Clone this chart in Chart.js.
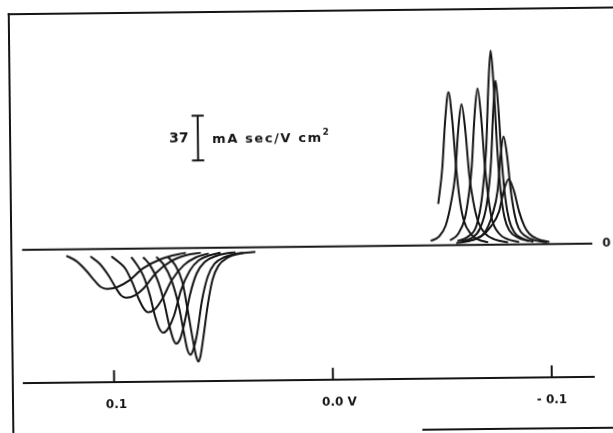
<!DOCTYPE html>
<html>
<head>
<meta charset="utf-8">
<script src="https://cdn.jsdelivr.net/npm/chart.js@4.4.1/dist/chart.umd.min.js"></script>
<style>
  html, body { margin: 0; padding: 0; background: #fff; overflow: hidden; }
  /* la figura escaneada esta un poco girada */
  #hoja { position: relative; width: 613px; height: 433px; transform: rotate(-0.63deg); transform-origin: 306.5px 216.5px; }
  #grafico { position: absolute; left: 0; top: 0; }
  .linea { position: absolute; background: #151515; }
  .txt { position: absolute; font-family: "DejaVu Sans"; font-weight: bold; font-size: 13px; line-height: 13px; color: #151515; white-space: nowrap; }
</style>
</head>
<body>
<div id="hoja">
  <div class="linea" style="left:10px; top:9.5px; width:630px; height:2px"></div>
  <div class="linea" style="left:10px; top:9.5px; width:2px; height:450px"></div>
  <div class="linea" style="left:420px; top:430px; width:220px; height:2px"></div>
  <canvas id="grafico" width="613" height="433"></canvas>
  <div class="txt" style="left:170px; top:130px; font-size:14px">37</div>
  <div class="txt" style="left:213px; top:130.5px; letter-spacing:1.6px">mA sec/V cm<span style="font-size:9px; position:relative; top:-7px; letter-spacing:0">2</span></div>
</div>

<script>
// Curvas: [potencial (V), corriente (mA sec/V cm2)]

// Barridos catodicos (picos hacia abajo, a la izquierda)
const catodica1 = [[0.1212,-5.3],[0.1166,-9.9],[0.1120,-18.2],[0.1083,-26.4],[0.1056,-31.4],[0.1028,-33.0],[0.0978,-31.4],[0.0927,-26.4],[0.0863,-16.5],[0.0780,-8.9],[0.0698,-5.0],[0.0666,-4.0]]
const catodica2 = [[0.1102,-6.1],[0.1060,-12.2],[0.1019,-22.3],[0.0987,-32.4],[0.0964,-38.5],[0.0941,-40.5],[0.0900,-38.5],[0.0858,-32.4],[0.0803,-20.3],[0.0735,-10.9],[0.0666,-6.1],[0.0597,-4.1]]
const catodica3 = [[0.1006,-6.3],[0.0969,-11.6],[0.0942,-16.8],[0.0910,-28.9],[0.0882,-42.1],[0.0859,-50.0],[0.0841,-52.6],[0.0809,-50.0],[0.0777,-42.1],[0.0731,-26.3],[0.0676,-14.2],[0.0621,-7.9],[0.0561,-4.7]]
const catodica4 = [[0.0915,-7.0],[0.0888,-13.9],[0.0860,-23.0],[0.0833,-38.3],[0.0810,-55.7],[0.0791,-66.1],[0.0773,-69.6],[0.0750,-66.1],[0.0723,-55.7],[0.0690,-34.8],[0.0649,-18.8],[0.0608,-10.4],[0.0557,-6.3],[0.0507,-4.2]]
const catodica5 = [[0.0861,-7.1],[0.0829,-14.2],[0.0797,-26.0],[0.0769,-43.3],[0.0746,-63.0],[0.0728,-74.9],[0.0714,-78.8],[0.0696,-74.9],[0.0677,-63.0],[0.0650,-39.4],[0.0618,-21.3],[0.0581,-11.8],[0.0531,-7.1],[0.0475,-4.7],[0.0439,-3.9]]
const catodica6 = [[0.0801,-7.0],[0.0769,-13.2],[0.0733,-26.4],[0.0700,-48.4],[0.0678,-70.4],[0.0664,-83.6],[0.0650,-88.0],[0.0636,-83.6],[0.0618,-70.4],[0.0595,-44.0],[0.0567,-23.8],[0.0535,-13.2],[0.0489,-7.9],[0.0439,-5.3],[0.0402,-4.4]]
const catodica7 = [[0.0747,-7.5],[0.0715,-14.1],[0.0683,-28.1],[0.0660,-51.6],[0.0637,-76.9],[0.0623,-90.0],[0.0614,-93.8],[0.0605,-90.0],[0.0591,-75.0],[0.0568,-46.9],[0.0545,-26.3],[0.0518,-15.0],[0.0476,-8.4],[0.0421,-5.2],[0.0348,-3.8]]

// Barridos anodicos (picos hacia arriba, a la derecha)
const anodica1 = [[-0.0490,34.0],[-0.0510,63.0],[-0.0526,103.3],[-0.0542,126.0],[-0.0558,103.3],[-0.0574,63.0],[-0.0590,35.3],[-0.0606,20.2],[-0.0638,8.8],[-0.0670,4.4],[-0.0716,1.9]]
const anodica2 = [[-0.0454,3.5],[-0.0491,7.0],[-0.0523,16.2],[-0.0551,37.1],[-0.0569,58.0],[-0.0585,95.1],[-0.0601,116.0],[-0.0617,95.1],[-0.0633,58.0],[-0.0651,34.8],[-0.0670,19.7],[-0.0702,9.3],[-0.0748,4.1],[-0.0807,1.7]]
const anodica3 = [[-0.0542,3.9],[-0.0579,9.0],[-0.0611,21.9],[-0.0631,42.6],[-0.0645,64.5],[-0.0660,105.8],[-0.0675,129.0],[-0.0690,105.8],[-0.0705,64.5],[-0.0721,36.1],[-0.0735,20.6],[-0.0767,9.0],[-0.0803,4.5],[-0.0858,1.9]]
const anodica4 = [[-0.0576,3.2],[-0.0622,6.4],[-0.0664,16.0],[-0.0691,40.0],[-0.0712,80.0],[-0.0725,131.2],[-0.0737,160.0],[-0.0749,131.2],[-0.0762,80.0],[-0.0776,43.2],[-0.0792,22.4],[-0.0815,11.2],[-0.0852,5.6],[-0.0902,2.4]]
const anodica5 = [[-0.0593,2.7],[-0.0639,5.4],[-0.0680,13.5],[-0.0712,33.8],[-0.0733,67.5],[-0.0746,110.7],[-0.0758,135.0],[-0.0770,110.7],[-0.0783,67.5],[-0.0797,37.8],[-0.0813,20.3],[-0.0836,10.1],[-0.0873,4.7],[-0.0923,2.0]]
const anodica6 = [[-0.0604,2.7],[-0.0654,4.5],[-0.0700,9.8],[-0.0737,24.9],[-0.0762,44.5],[-0.0777,73.0],[-0.0792,89.0],[-0.0807,73.0],[-0.0822,44.5],[-0.0838,24.9],[-0.0856,13.4],[-0.0884,7.1],[-0.0930,3.1],[-0.0985,1.3]]
const anodica7 = [[-0.0570,1.6],[-0.0630,3.2],[-0.0685,7.0],[-0.0730,15.1],[-0.0767,27.0],[-0.0790,44.3],[-0.0813,54.0],[-0.0836,44.3],[-0.0859,27.0],[-0.0882,15.1],[-0.0905,8.6],[-0.0941,4.3],[-0.0996,1.6]]

const barridosCatodicos = [catodica1, catodica2, catodica3, catodica4, catodica5, catodica6, catodica7]
const barridosAnodicos = [anodica1, anodica2, anodica3, anodica4, anodica5, anodica6, anodica7]

// Eje de potencial
const ticksPotencial = [0.1, 0.0, -0.1]
const etiquetasPotencial = ['\u00a00.1', '\u00a0\u00a0\u00a00.0 V', '- 0.1']

// Barra de escala: 37 mA sec/V cm2
const valorBarra = 37
const inicioBarra = 72
const potencialBarra = 0.0605

const limitesX = { min: -0.1192, max: 0.1415 }
const limitesY = { min: -110, max: 186 }

const negro = '#151515'
const fuente = { family: 'DejaVu Sans', weight: 'bold', size: 12 }


const aPuntos = (serie) => serie.map(p => ({ x: p[0], y: p[1] }))

const curva = (serie) => ({
  data: aPuntos(serie),
  borderColor: negro,
  borderWidth: 2,
  pointRadius: 0,
  showLine: true,
  cubicInterpolationMode: 'monotone'
})

const tramo = (puntos) => ({
  data: puntos,
  borderColor: negro,
  borderWidth: 2,
  pointRadius: 0,
  showLine: true,
  tension: 0
})

const ancho = 0.0028
const datasets = [
  tramo([{ x: limitesX.max, y: 0 }, { x: limitesX.min, y: 0 }]),
  ...barridosCatodicos.map(curva),
  ...barridosAnodicos.map(curva),
  tramo([{ x: potencialBarra, y: inicioBarra }, { x: potencialBarra, y: inicioBarra + valorBarra }]),
  tramo([{ x: potencialBarra + ancho, y: inicioBarra }, { x: potencialBarra - ancho, y: inicioBarra }]),
  tramo([{ x: potencialBarra + ancho, y: inicioBarra + valorBarra }, { x: potencialBarra - ancho, y: inicioBarra + valorBarra }])
]

// marcas del eje hacia arriba
const marcasArriba = {
  id: 'marcasArriba',
  afterDatasetsDraw(chart) {
    const { ctx, chartArea, scales } = chart
    ctx.save()
    ctx.strokeStyle = negro
    ctx.lineWidth = 2
    scales.x.ticks.forEach(t => {
      const px = scales.x.getPixelForValue(t.value)
      ctx.beginPath()
      ctx.moveTo(px, chartArea.bottom)
      ctx.lineTo(px, chartArea.bottom - 12)
      ctx.stroke()
    })
    ctx.restore()
  }
}

var grafico = new Chart(document.getElementById('grafico'), {
  type: 'scatter',
  data: { datasets: datasets },
  options: {
    responsive: false,
    animation: false,
    devicePixelRatio: 1,
    layout: { padding: { left: 21.5, right: 0, top: 21, bottom: 6.5 } },
    plugins: { legend: { display: false }, tooltip: { enabled: false } },
    scales: {
      x: {
        type: 'linear',
        position: 'bottom',
        reverse: true,
        min: limitesX.min,
        max: limitesX.max,
        afterBuildTicks: (eje) => { eje.ticks = ticksPotencial.map(v => ({ value: v })) },
        ticks: {
          callback: (v, i) => etiquetasPotencial[i],
          color: negro,
          font: fuente,
          padding: 16,
          maxRotation: 0,
          autoSkip: false
        },
        grid: { display: false, drawTicks: false },
        border: { display: true, color: negro, width: 2 }
      },
      y: {
        type: 'linear',
        position: 'right',
        min: limitesY.min,
        max: limitesY.max,
        afterBuildTicks: (eje) => { eje.ticks = [{ value: 0 }] },
        afterFit: (eje) => { eje.width = 21 },
        ticks: { callback: () => '0', color: negro, font: fuente, padding: 10 },
        grid: { display: false, drawTicks: false },
        border: { display: false }
      }
    }
  },
  plugins: [marcasArriba]
})
</script>
</body>
</html>
